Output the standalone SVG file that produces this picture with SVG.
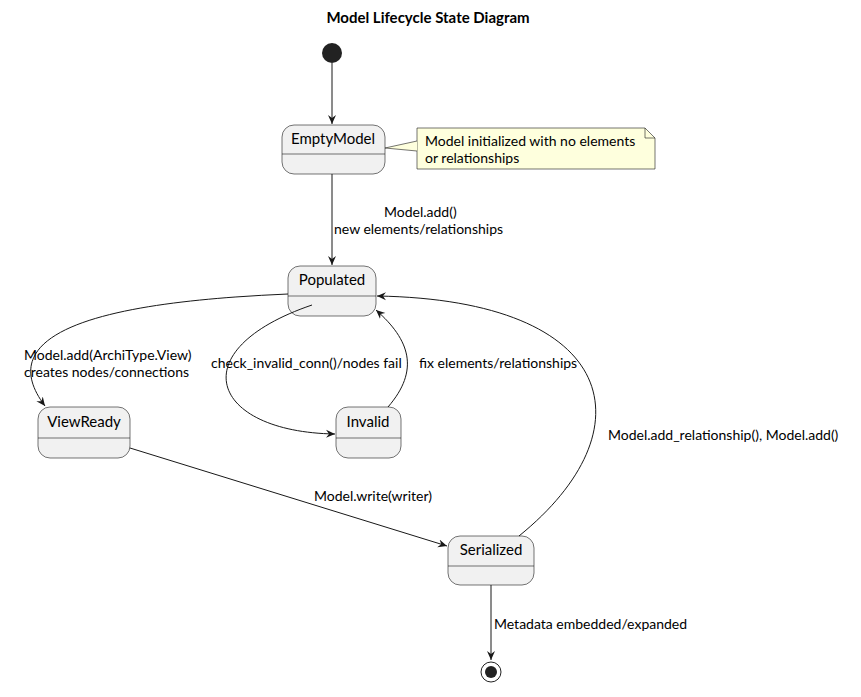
<svg xmlns="http://www.w3.org/2000/svg" width="861" height="697" viewBox="0 0 861 697">
<style>
text{font-family:"Lato","Liberation Sans",sans-serif;font-size:14px;fill:#000}
.st rect{fill:#f1f1f1;stroke:#181818;stroke-width:0.6}
.st line{stroke:#181818;stroke-width:0.6}
.st text{font-size:15px;text-anchor:middle}
.c path,.c line{fill:none;stroke:#181818;stroke-width:1}
</style>
<defs><marker id="a" markerWidth="10" markerHeight="10" refX="9" refY="5" orient="auto" markerUnits="userSpaceOnUse"><path d="M0,1 L9,5 L0,9 L3,5 Z" fill="#181818"/></marker></defs>
<rect width="861" height="697" fill="#fff"/>
<text x="428" y="23" text-anchor="middle" style="font-weight:bold;font-size:15px">Model Lifecycle State Diagram</text>
<g id="start"><circle cx="332" cy="53" r="10" fill="#222"/></g>
<g id="EmptyModel" class="st"><rect x="282" y="125" width="103" height="49" rx="12"/><line x1="282" y1="154" x2="385" y2="154"/><text x="333" y="144">EmptyModel</text></g>
<g id="note"><path d="M417,128 L645,128 L655,138 L655,169 L417,169 Z" fill="#feffdd" stroke="#181818" stroke-width="0.6"/><path d="M645,128 L645,138 L655,138" fill="none" stroke="#181818" stroke-width="0.6"/><path d="M417,141 L385,148 L417,151" fill="#feffdd" stroke="#181818" stroke-width="0.6"/><text x="425" y="146">Model initialized with no elements</text><text x="425" y="163">or relationships</text></g>
<g id="Populated" class="st"><rect x="288" y="266" width="88" height="50" rx="12"/><line x1="288" y1="296" x2="376" y2="296"/><text x="332" y="285">Populated</text></g>
<g id="ViewReady" class="st"><rect x="38" y="407" width="92" height="51" rx="12"/><line x1="38" y1="438" x2="130" y2="438"/><text x="84" y="427">ViewReady</text></g>
<g id="Invalid" class="st"><rect x="336" y="407" width="65" height="51" rx="12"/><line x1="336" y1="438" x2="401" y2="438"/><text x="368" y="427">Invalid</text></g>
<g id="Serialized" class="st"><rect x="448" y="536" width="86" height="49" rx="12"/><line x1="448" y1="566" x2="534" y2="566"/><text x="491" y="555">Serialized</text></g>
<g id="end"><circle cx="491" cy="672" r="10" fill="#fff" stroke="#222" stroke-width="1"/><circle cx="491" cy="672" r="6" fill="#222"/></g>
<g class="c">
<line x1="332" y1="63" x2="332" y2="124" marker-end="url(#a)"/>
<line x1="332" y1="174" x2="332" y2="265" marker-end="url(#a)"/>
<path d="M288,294 C150,300 -20,320 45,406" marker-end="url(#a)"/>
<path d="M312,305 C180,350 210,432 335,434" marker-end="url(#a)"/>
<path d="M388,407 C420,370 410,340 376,310" marker-end="url(#a)"/>
<line x1="130" y1="448" x2="447" y2="546" marker-end="url(#a)"/>
<path d="M519,536 C650,430 620,300 377,296" marker-end="url(#a)"/>
<line x1="491" y1="585" x2="491" y2="660" marker-end="url(#a)"/>
</g>
<g id="labels">
<text x="384" y="217">Model.add()</text>
<text x="334" y="234">new elements/relationships</text>
<text x="24" y="360">Model.add(ArchiType.View)</text>
<text x="24" y="377">creates nodes/connections</text>
<text x="211" y="368">check_invalid_conn()/nodes fail</text>
<text x="419" y="368">fix elements/relationships</text>
<text x="314" y="501">Model.write(writer)</text>
<text x="608" y="440">Model.add_relationship(), Model.add()</text>
<text x="494" y="629">Metadata embedded/expanded</text>
</g>
</svg>
